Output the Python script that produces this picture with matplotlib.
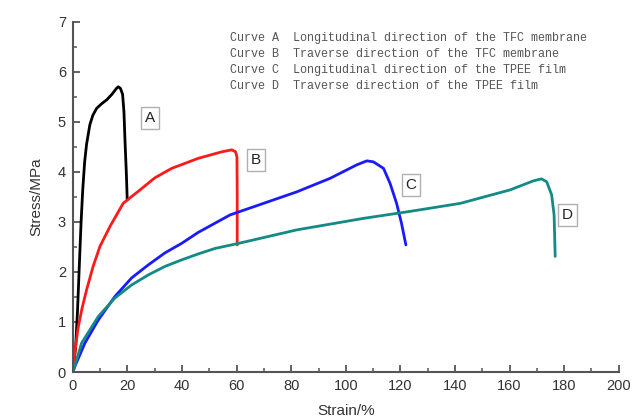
import matplotlib
matplotlib.use("Agg")
import matplotlib.pyplot as plt
from matplotlib.ticker import MultipleLocator

# Stress-strain curves (strain in %, stress in MPa)
strain_a = [0, 1.0, 1.7, 2.4, 3.0, 3.6, 4.3, 5.0, 6.2, 7.3, 8.7, 10.5, 12.4, 14.3, 16.0, 16.6, 17.4,
            18.2, 18.7, 19.1, 19.6, 19.9]
stress_a = [0, 0.5, 1.24, 2.2, 3.0, 3.64, 4.2, 4.55, 4.94, 5.13, 5.27, 5.36, 5.44, 5.55, 5.67, 5.70, 5.67,
            5.55, 5.2, 4.60, 3.94, 3.44]

strain_b = [0, 0.7, 1.8, 3.2, 5.0, 7.4, 9.9, 13.6, 18.4, 24.6, 30.0, 36.2, 45.9, 54.5, 58.2, 59.6, 60.1,
            60.2, 60.2]
stress_b = [0, 0.38, 0.85, 1.24, 1.64, 2.11, 2.51, 2.91, 3.37, 3.64, 3.88, 4.07, 4.27, 4.40, 4.44, 4.40, 4.30,
            3.5, 2.54]

strain_c = [0, 0.7, 4.4, 9.3, 15.4, 21.5, 27.6, 33.7, 39.8, 45.9, 57.6, 69.8, 82.0, 94.2, 104.0,
            107.7, 110.1, 113.8, 116.2, 118.6, 120.4, 122.0]
stress_c = [0, 0.11, 0.58, 1.04, 1.51, 1.88, 2.14, 2.38, 2.57, 2.79, 3.14, 3.37, 3.60, 3.87, 4.14,
            4.22, 4.20, 4.07, 3.77, 3.37, 2.97, 2.54]

strain_d = [0, 3.2, 9.3, 15.4, 21.5, 27.6, 33.7, 39.8, 45.9, 52.1, 60.6, 82.0, 106.4, 123.5, 141.9,
            160.2, 168.7, 171.7, 173.6, 175.4, 176.3, 176.7]
stress_d = [0, 0.58, 1.11, 1.48, 1.74, 1.94, 2.11, 2.24, 2.36, 2.47, 2.57, 2.84, 3.07, 3.21, 3.37,
            3.64, 3.82, 3.86, 3.80, 3.54, 3.14, 2.31]

curve_names = ["A", "B", "C", "D"]
curve_colors = ["#000000", "#ff1a1a", "#1a1aff", "#138a86"]
label_pos = [(28.2, 5.08), (67.1, 4.24), (123.9, 3.74), (181.1, 3.14)]

legend_lines = [
    "Curve A  Longitudinal direction of the TFC membrane",
    "Curve B  Traverse direction of the TFC membrane",
    "Curve C  Longitudinal direction of the TPEE film",
    "Curve D  Traverse direction of the TPEE film",
]

fig = plt.figure(figsize=(6.34, 4.18), dpi=100)
ax = fig.add_axes([0.115, 0.110, 0.861, 0.838])

series = [(strain_a, stress_a), (strain_b, stress_b), (strain_c, stress_c), (strain_d, stress_d)]
for (xs, ys), col in zip(series, curve_colors):
    ax.plot(xs, ys, color=col, lw=2.0, solid_joinstyle="round", solid_capstyle="round")

for name, (lx, ly) in zip(curve_names, label_pos):
    ax.text(lx, ly, name, ha="center", va="center", fontsize=11, color="#222222",
            family="Liberation Sans",
            bbox=dict(boxstyle="square,pad=0.25", fc="white", ec="#b0b0b0", lw=1.0))

for i, line in enumerate(legend_lines):
    fig.text(230 / 634, 1 - (38 + 16 * i) / 418, line, ha="left", va="center",
             fontsize=8.5, family="Liberation Mono", color="#555555")

ax.set_xlim(0, 200)
ax.set_ylim(0, 7)
ax.xaxis.set_major_locator(MultipleLocator(20))
ax.xaxis.set_minor_locator(MultipleLocator(10))
ax.yaxis.set_major_locator(MultipleLocator(1))
ax.yaxis.set_minor_locator(MultipleLocator(0.5))

for side in ("top", "right"):
    ax.spines[side].set_visible(False)
for side in ("left", "bottom"):
    ax.spines[side].set_color("#555555")
    ax.spines[side].set_linewidth(1.5)

ax.tick_params(which="major", direction="in", length=5, width=1.3, color="#555555",
               labelsize=10.5, labelcolor="#333333", pad=5)
ax.tick_params(which="minor", direction="in", length=3, width=1.1, color="#555555")
for lab in ax.get_xticklabels() + ax.get_yticklabels():
    lab.set_family("Liberation Sans")

ax.set_xlabel("Strain/%", fontsize=11, family="Liberation Sans", color="#333333", labelpad=8)
ax.set_ylabel("Stress/MPa", fontsize=11, family="Liberation Sans", color="#333333", labelpad=10)

fig.savefig("out.png", dpi=100)
